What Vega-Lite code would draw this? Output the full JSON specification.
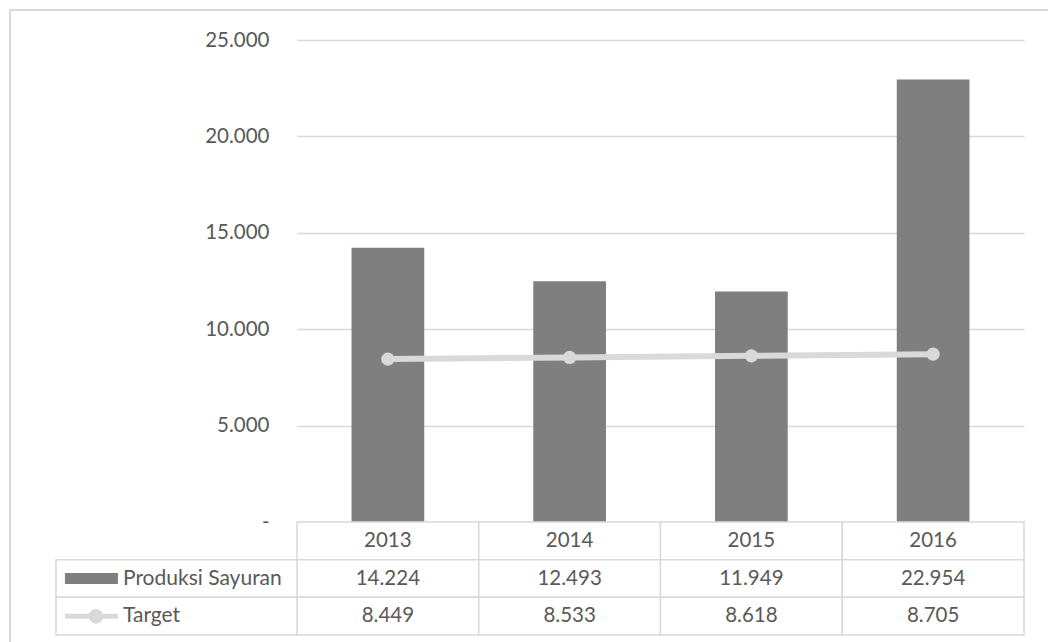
{
  "$schema": "https://vega.github.io/schema/vega-lite/v6.json",
  "width": 1048,
  "height": 642,
  "padding": {"left": 10, "top": 10, "right": -10, "bottom": -10},
  "autosize": {"type": "none"},
  "background": "white",
  "config": {
    "view": {"stroke": "#d9d9d9", "strokeWidth": 2},
    "font": "Lato",
    "locale": {"number": {"decimal": ",", "thousands": ".", "grouping": [3], "currency": ["", ""]}}
  },
  "datasets": {
    "main": [
      {"year": "2013", "Produksi Sayuran": 14224, "Target": 8449},
      {"year": "2014", "Produksi Sayuran": 12493, "Target": 8533},
      {"year": "2015", "Produksi Sayuran": 11949, "Target": 8618},
      {"year": "2016", "Produksi Sayuran": 22954, "Target": 8705}
    ],
    "series": [
      {"series": "Produksi Sayuran"},
      {"series": "Target"}
    ]
  },
  "resolve": {
    "scale": {"x": "independent", "y": "independent"},
    "axis": {"x": "independent", "y": "independent"}
  },
  "layer": [
    {
      "data": {"name": "main"},
      "encoding": {
        "x": {
          "field": "year", "type": "nominal",
          "scale": {"type": "band", "domain": ["2013", "2014", "2015", "2016"], "range": [287, 1014], "paddingInner": 0, "paddingOuter": 0},
          "axis": null
        }
      },
      "layer": [
        {
          "mark": {"type": "bar", "color": "#7f7f7f", "width": {"band": 0.4}},
          "encoding": {
            "y": {
              "field": "Produksi Sayuran", "type": "quantitative",
              "scale": {"domain": [0, 25000], "range": [512, 30], "nice": false, "zero": true},
              "axis": {
                "title": null, "offset": -287, "domain": false, "ticks": false,
                "labelPadding": 28, "values": [0, 5000, 10000, 15000, 20000, 25000],
                "format": ",.0f", "labelExpr": "datum.value === 0 ? '-' : datum.label",
                "grid": true, "gridColor": "#d9d9d9", "gridWidth": 1.5,
                "labelFont": "Lato", "labelFontSize": 20.5, "labelColor": "#595959"
              }
            }
          }
        },
        {
          "mark": {"type": "line", "color": "#d9d9d9", "strokeWidth": 6},
          "encoding": {
            "y": {"field": "Target", "type": "quantitative"}
          }
        },
        {
          "mark": {"type": "circle", "color": "#d9d9d9", "size": 175, "opacity": 1},
          "encoding": {
            "y": {"field": "Target", "type": "quantitative"}
          }
        }
      ]
    },
    {
      "data": {"name": "main"},
      "encoding": {
        "x": {
          "field": "year", "type": "nominal",
          "scale": {"type": "band", "domain": ["2013", "2014", "2015", "2016"], "range": [287, 1014], "paddingInner": 0, "paddingOuter": 0},
          "axis": null
        }
      },
      "layer": [
        {
          "mark": {"type": "rect", "fill": "white", "stroke": "#d9d9d9", "strokeWidth": 1.5},
          "encoding": {
            "y": {
              "datum": "header", "type": "nominal",
              "scale": {"type": "band", "domain": ["header", "Produksi Sayuran", "Target"], "range": [512, 625], "paddingInner": 0, "paddingOuter": 0},
              "axis": null
            }
          }
        },
        {
          "transform": [{"fold": ["Produksi Sayuran", "Target"], "as": ["series", "value"]}],
          "mark": {"type": "rect", "fill": "white", "stroke": "#d9d9d9", "strokeWidth": 1.5},
          "encoding": {
            "y": {"field": "series", "type": "nominal"}
          }
        },
        {
          "mark": {"type": "text", "font": "Lato", "fontSize": 20.5, "color": "#595959", "baseline": "middle"},
          "encoding": {
            "y": {"datum": "header", "type": "nominal"},
            "text": {"field": "year", "type": "nominal"}
          }
        },
        {
          "transform": [{"fold": ["Produksi Sayuran", "Target"], "as": ["series", "value"]}],
          "mark": {"type": "text", "font": "Lato", "fontSize": 20.5, "color": "#595959", "baseline": "middle"},
          "encoding": {
            "y": {"field": "series", "type": "nominal"},
            "text": {"field": "value", "type": "quantitative", "format": ",.0f"}
          }
        }
      ]
    },
    {
      "data": {"name": "series"},
      "encoding": {
        "y": {
          "field": "series", "type": "nominal",
          "scale": {"type": "band", "domain": ["header", "Produksi Sayuran", "Target"], "range": [512, 625], "paddingInner": 0, "paddingOuter": 0},
          "axis": null
        }
      },
      "layer": [
        {
          "mark": {"type": "rect", "fill": "white", "stroke": "#d9d9d9", "strokeWidth": 1.5},
          "encoding": {
            "x": {
              "datum": "label", "type": "nominal",
              "scale": {"type": "band", "domain": ["label"], "range": [46, 287], "paddingInner": 0, "paddingOuter": 0},
              "axis": null
            }
          }
        },
        {
          "mark": {"type": "point", "filled": true, "size": 2809, "strokeWidth": 0, "opacity": 1},
          "encoding": {
            "x": {"datum": "label", "type": "nominal", "bandPosition": 0.147},
            "shape": {
              "field": "series", "type": "nominal", "legend": null,
              "scale": {
                "domain": ["Produksi Sayuran", "Target"],
                "range": [
                  "M-1,-0.21H1V0.21H-1Z",
                  "M-1,-0.094H1V0.094H-1Z M-0.105,0A0.275,0.275 0 1,1 0.445,0A0.275,0.275 0 1,1 -0.105,0Z"
                ]
              }
            },
            "color": {
              "field": "series", "type": "nominal", "legend": null,
              "scale": {"domain": ["Produksi Sayuran", "Target"], "range": ["#7f7f7f", "#d9d9d9"]}
            }
          }
        },
        {
          "mark": {"type": "text", "font": "Lato", "fontSize": 21, "color": "#595959", "align": "left", "baseline": "middle"},
          "encoding": {
            "x": {"datum": "label", "type": "nominal", "bandPosition": 0.278},
            "text": {"field": "series", "type": "nominal"}
          }
        }
      ]
    }
  ]
}
